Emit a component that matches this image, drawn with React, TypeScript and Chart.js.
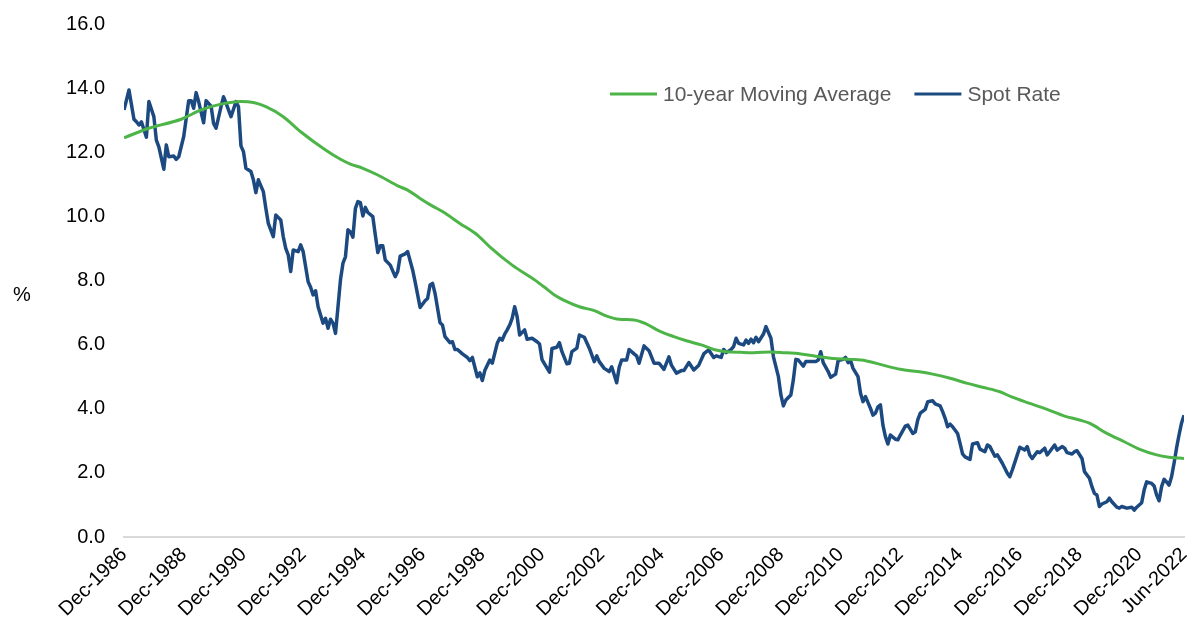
import React, { useEffect, useRef } from "react";
import { Chart, registerables } from "chart.js";

Chart.register(...registerables);

// x positions are months since Dec-1986
const tickMonths = [0, 24, 48, 72, 96, 120, 144, 168, 192, 216, 240, 264, 288, 312, 336, 360, 384, 408, 426];
const tickLabels = [
  "Dec-1986", "Dec-1988", "Dec-1990", "Dec-1992", "Dec-1994", "Dec-1996", "Dec-1998", "Dec-2000",
  "Dec-2002", "Dec-2004", "Dec-2006", "Dec-2008", "Dec-2010", "Dec-2012", "Dec-2014", "Dec-2016",
  "Dec-2018", "Dec-2020", "Jun-2022",
];
const yTicks = [0, 2, 4, 6, 8, 10, 12, 14, 16];

const spotMonth = [
  0, 2, 4, 5, 6, 7, 9, 10, 12, 13, 14, 16, 17, 18, 20, 21, 22, 24, 26, 27, 28, 29, 30, 32, 33, 35, 36, 37, 39, 40,
  41, 43, 44, 45, 46, 47, 48, 49, 51, 52, 53, 54, 56, 57, 58, 60, 61, 63, 64, 65, 66, 67, 68, 70, 71, 72, 74, 75, 76, 77,
  78, 80, 81, 82, 83, 84, 85, 86, 87, 88, 89, 90, 91, 92, 93, 94, 95, 96, 97, 98, 100, 101, 102, 103, 104, 105, 107, 109, 110, 111,
  113, 114, 116, 117, 119, 121, 122, 123, 124, 125, 127, 128, 129, 131, 132, 133, 134, 136, 138, 139, 140, 142, 143, 144, 145, 147, 148, 150, 151, 152,
  153, 154, 155, 156, 157, 158, 159, 161, 162, 164, 166, 167, 168, 169, 171, 172, 174, 175, 176, 178, 179, 180, 182, 183, 185, 187, 189, 190, 191, 193,
  195, 196, 198, 199, 200, 202, 203, 205, 206, 207, 209, 211, 213, 215, 217, 219, 220, 222, 224, 225, 227, 229, 231, 233, 234, 235, 237, 238, 240, 241,
  242, 244, 245, 246, 247, 249, 250, 251, 252, 253, 254, 255, 257, 258, 260, 261, 263, 264, 265, 266, 268, 269, 270, 271, 273, 274, 276, 278, 279, 280,
  281, 283, 284, 286, 287, 289, 290, 291, 292, 293, 295, 296, 297, 298, 300, 301, 302, 303, 304, 305, 306, 307, 308, 310, 311, 312, 314, 315, 317, 318,
  319, 320, 322, 323, 325, 326, 328, 329, 330, 331, 332, 333, 335, 336, 337, 338, 340, 341, 343, 344, 346, 347, 348, 350, 351, 353, 355, 356, 357, 359,
  360, 362, 363, 364, 365, 367, 368, 370, 371, 372, 374, 375, 377, 378, 379, 381, 382, 383, 385, 386, 388, 389, 390, 391, 392, 393, 395, 396, 397, 399,
  400, 401, 403, 405, 406, 407, 409, 410, 411, 413, 414, 415, 416, 417, 418, 419, 420, 421, 422, 423, 424, 425, 426,
];
const spotRate = [
  13.32, 13.94, 13.03, 12.95, 12.85, 12.95, 12.47, 13.58, 13.11, 12.38, 12.17, 11.47, 12.23, 11.86, 11.88, 11.78, 11.86, 12.49, 13.61, 13.61, 13.37, 13.86, 13.58, 12.92, 13.61, 13.44, 12.9, 12.75, 13.42, 13.73,
  13.53, 13.11, 13.34, 13.58, 13.42, 12.2, 12.02, 11.5, 11.4, 11.14, 10.74, 11.14, 10.77, 10.25, 9.78, 9.37, 10.04, 9.89, 9.37, 9.0, 8.8, 8.28, 8.95, 8.9, 9.11, 8.9, 7.96, 7.79, 7.55, 7.68,
  7.18, 6.67, 6.82, 6.51, 6.79, 6.67, 6.35, 7.18, 8.02, 8.54, 8.74, 9.58, 9.52, 9.35, 10.25, 10.46, 10.43, 10.01, 10.28, 10.12, 9.99, 9.42, 8.87, 9.08, 9.08, 8.64, 8.48, 8.12, 8.28, 8.76,
  8.83, 8.9, 8.33, 7.96, 7.16, 7.37, 7.44, 7.86, 7.91, 7.6, 6.68, 6.61, 6.25, 6.06, 6.09, 5.85, 5.85, 5.71, 5.6, 5.5, 5.6, 5.0, 5.12, 4.88, 5.19, 5.52, 5.42, 6.04, 6.2, 6.14,
  6.33, 6.46, 6.61, 6.82, 7.18, 6.87, 6.3, 6.46, 6.17, 6.2, 6.09, 6.02, 5.53, 5.4, 5.14, 5.88, 5.92, 6.06, 5.78, 5.4, 5.42, 5.78, 5.89, 6.3, 6.23, 5.89, 5.47, 5.65, 5.47, 5.26,
  5.16, 5.31, 4.81, 5.29, 5.52, 5.52, 5.85, 5.71, 5.65, 5.42, 5.96, 5.81, 5.42, 5.42, 5.23, 5.62, 5.36, 5.11, 5.19, 5.19, 5.44, 5.21, 5.36, 5.71, 5.78, 5.83, 5.6, 5.65, 5.6, 5.85,
  5.75, 5.85, 5.94, 6.2, 6.04, 5.99, 6.14, 6.04, 6.17, 6.06, 6.23, 6.09, 6.33, 6.56, 6.2, 5.62, 5.0, 4.43, 4.09, 4.27, 4.43, 4.9, 5.54, 5.52, 5.33, 5.47, 5.47, 5.47, 5.52, 5.78,
  5.44, 5.16, 4.98, 5.08, 5.5, 5.54, 5.6, 5.44, 5.5, 5.26, 5.0, 4.48, 4.22, 4.38, 4.01, 3.8, 3.86, 4.06, 4.12, 3.49, 3.13, 2.9, 3.18, 3.05, 3.03, 3.18, 3.46, 3.49, 3.23, 3.28,
  3.65, 3.86, 3.98, 4.22, 4.25, 4.15, 4.09, 3.91, 3.7, 3.44, 3.52, 3.44, 3.23, 2.92, 2.59, 2.5, 2.42, 2.9, 2.94, 2.74, 2.66, 2.87, 2.82, 2.52, 2.56, 2.3, 1.99, 1.88, 2.09, 2.56,
  2.8, 2.71, 2.82, 2.56, 2.45, 2.66, 2.63, 2.77, 2.56, 2.66, 2.87, 2.71, 2.82, 2.77, 2.63, 2.59, 2.66, 2.69, 2.45, 2.04, 1.83, 1.57, 1.36, 1.31, 0.95, 1.03, 1.1, 1.21, 1.1, 0.93,
  0.9, 0.95, 0.9, 0.93, 0.84, 0.93, 1.07, 1.47, 1.72, 1.67, 1.59, 1.31, 1.13, 1.57, 1.8, 1.72, 1.62, 1.88, 2.3, 2.77, 3.18, 3.55, 3.8,
];

const maMonth = [
  0, 10, 23, 31, 39, 47, 52, 57, 64, 71, 81, 87, 91, 96, 102, 107, 110, 114, 119, 124, 128, 135, 142, 147, 156, 165, 170, 173, 178, 183,
  189, 194, 199, 205, 210, 215, 221, 226, 232, 237, 242, 248, 253, 260, 265, 272, 278, 285, 292, 298, 305, 312, 319, 325, 332, 339, 345, 352, 357, 364,
  371, 378, 384, 388, 395, 402, 408, 415, 420, 426,
];
const maRate = [
  12.45, 12.75, 13.03, 13.32, 13.5, 13.58, 13.55, 13.42, 13.11, 12.64, 12.07, 11.78, 11.63, 11.5, 11.29, 11.08, 10.95, 10.82, 10.56, 10.32, 10.15, 9.78, 9.42, 9.05, 8.48, 8.02, 7.73, 7.55, 7.34, 7.18,
  7.06, 6.89, 6.79, 6.77, 6.64, 6.43, 6.25, 6.12, 5.99, 5.85, 5.78, 5.76, 5.75, 5.77, 5.75, 5.71, 5.64, 5.57, 5.54, 5.5, 5.36, 5.23, 5.16, 5.08, 4.95, 4.79, 4.67, 4.53, 4.36, 4.17,
  3.98, 3.77, 3.65, 3.55, 3.23, 2.97, 2.74, 2.56, 2.49, 2.45,
];

const seriesNames = ["10-year Moving Average", "Spot Rate"];
const seriesColors = ["#4DB548", "#1C4A80"];

const FONT = '"Liberation Sans", Arial, Helvetica, sans-serif';

const overlayPlugin = {
  id: "overlayText",
  afterDraw(chart: any) {
    const ctx = chart.ctx;
    ctx.save();
    // y-axis unit
    ctx.font = `20px ${FONT}`;
    ctx.fillStyle = "#000000";
    ctx.textAlign = "center";
    ctx.textBaseline = "middle";
    ctx.fillText("%", 22, 295);
    // legend
    ctx.font = `21px ${FONT}`;
    ctx.textAlign = "left";
    let x = 610;
    const y = 94;
    chart.data.datasets.forEach((ds: any) => {
      ctx.strokeStyle = ds.borderColor;
      ctx.lineWidth = 3;
      ctx.beginPath();
      ctx.moveTo(x, y);
      ctx.lineTo(x + 47, y);
      ctx.stroke();
      ctx.fillStyle = "#595959";
      ctx.fillText(ds.label, x + 53, y + 1);
      x += 53 + ctx.measureText(ds.label).width + 23;
    });
    ctx.restore();
  },
};

export default function App() {
  const ref = useRef<HTMLCanvasElement | null>(null);

  useEffect(() => {
    document.body.style.margin = "0";
    if (!ref.current) return;
    const chart = new Chart(ref.current, {
      type: "line",
      data: {
        datasets: [
          {
            label: seriesNames[0],
            data: maMonth.map((m, i) => ({ x: m, y: maRate[i] })),
            borderColor: seriesColors[0],
            backgroundColor: seriesColors[0],
            borderWidth: 3,
            pointRadius: 0,
            cubicInterpolationMode: "monotone",
          },
          {
            label: seriesNames[1],
            data: spotMonth.map((m, i) => ({ x: m, y: spotRate[i] })),
            borderColor: seriesColors[1],
            backgroundColor: seriesColors[1],
            borderWidth: 3.5,
            pointRadius: 0,
            tension: 0,
            borderJoinStyle: "round",
          },
        ],
      },
      options: {
        animation: false,
        responsive: false,
        devicePixelRatio: 1,
        layout: { padding: { top: 24, right: 18, left: 0, bottom: 0 } },
        plugins: {
          legend: { display: false },
          tooltip: { enabled: false },
        },
        scales: {
          x: {
            type: "linear",
            min: 0,
            max: 426,
            afterBuildTicks: (scale: any) => {
              scale.ticks = tickMonths.map((v) => ({ value: v }));
            },
            afterFit: (scale: any) => {
              scale.height = 91;
              scale.paddingLeft = 0;
              scale.paddingRight = 0;
            },
            ticks: {
              autoSkip: false,
              maxRotation: 45,
              minRotation: 45,
              padding: 6,
              color: "#000000",
              font: { family: FONT, size: 20 },
              callback: (v: any) => {
                const i = tickMonths.indexOf(Number(v));
                return i >= 0 ? tickLabels[i] : "";
              },
            },
            grid: { display: false, drawTicks: false },
            border: { display: true, color: "#D9D9D9", width: 2 },
          },
          y: {
            type: "linear",
            min: 0,
            max: 16,
            afterBuildTicks: (scale: any) => {
              scale.ticks = yTicks.map((v) => ({ value: v }));
            },
            afterFit: (scale: any) => {
              scale.width = 124;
              scale.paddingTop = 0;
              scale.paddingBottom = 0;
            },
            ticks: {
              padding: 19,
              color: "#000000",
              font: { family: FONT, size: 20 },
              callback: (v: any) => Number(v).toFixed(1),
            },
            grid: { display: false, drawTicks: false },
            border: { display: false },
          },
        },
      },
      plugins: [overlayPlugin],
    } as any);
    return () => chart.destroy();
  }, []);

  return (
    <div style={{ width: 1202, height: 628 }}>
      <canvas ref={ref} width={1202} height={628} style={{ display: "block" }} />
    </div>
  );
}
